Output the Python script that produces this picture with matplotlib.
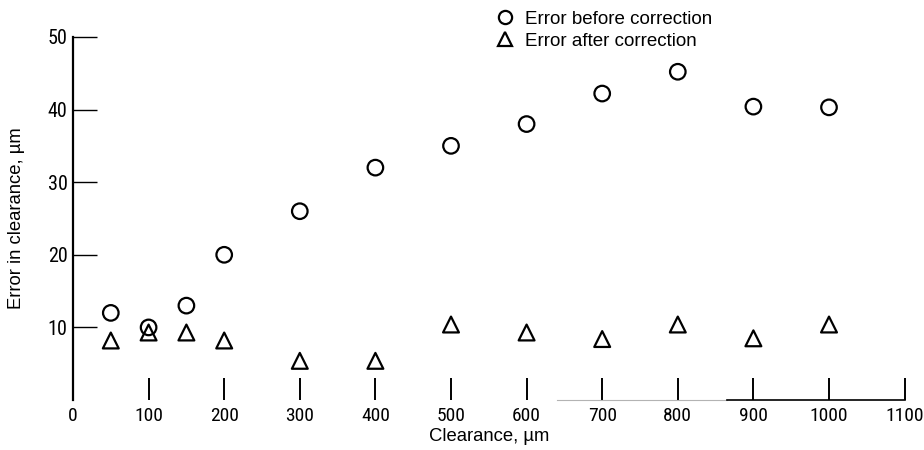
import matplotlib
matplotlib.use("Agg")
import matplotlib.pyplot as plt
from matplotlib.lines import Line2D

plt.rcParams['font.family'] = ['Liberation Sans', 'DejaVu Sans']
TICK_FONT = ['Roboto Condensed', 'DejaVu Sans']

# clearance, um
clearance = [50, 100, 150, 200, 300, 400, 500, 600, 700, 800, 900, 1000]
# error before / after correction, um
err_before = [12, 10, 13, 20, 26, 32, 35, 38, 42.2, 45.2, 40.4, 40.3]
err_after = [8.2, 9.3, 9.3, 8.2, 5.4, 5.4, 10.4, 9.3, 8.4, 10.4, 8.5, 10.4]

xticks = [0, 100, 200, 300, 400, 500, 600, 700, 800, 900, 1000, 1100]
yticks = [10, 20, 30, 40, 50]

fig = plt.figure(figsize=(9.24, 4.5), dpi=100)
ax = fig.add_axes([0.079, 0.111, 0.900, 0.807])

ax.scatter(clearance, err_before, s=125, marker='o', facecolors='none',
           edgecolors='black', linewidths=1.6, zorder=3, clip_on=False)
ax.scatter(clearance, err_after, s=130, marker='^', facecolors='none',
           edgecolors='black', linewidths=1.6, zorder=3, clip_on=False)

ax.set_xlim(0, 1100)
ax.set_ylim(0, 50)
ax.set_xticks(xticks)
ax.set_yticks(yticks)
ax.set_xticklabels([str(v) for v in xticks], fontsize=14, family=TICK_FONT)
ax.set_yticklabels([str(v) for v in yticks], fontsize=14.5, family=TICK_FONT)
ax.tick_params(axis='x', direction='in', length=16, width=1.4, pad=5)
ax.tick_params(axis='y', direction='in', length=17, width=1.0, pad=4)

for s in ('top', 'right'):
    ax.spines[s].set_visible(False)
ax.spines['left'].set_linewidth(1.6)
# scanned bottom axis only shows on the right part
ax.spines['bottom'].set_bounds(865, 1100)
ax.spines['bottom'].set_linewidth(1.2)
ax.plot([640, 865], [0, 0], color='0.7', lw=0.8, clip_on=False)

ax.set_xlabel('Clearance, µm', fontsize=13.3, labelpad=2)
ax.set_ylabel('Error in clearance, µm', fontsize=13.3, labelpad=16)

handles = [
    Line2D([], [], ls='none', marker='o', ms=9.5, mfc='none', mec='black', mew=1.6),
    Line2D([], [], ls='none', marker='^', ms=10, mfc='none', mec='black', mew=1.6),
]
fig.legend(handles, ['Error before correction', 'Error after correction'],
           loc='upper left', bbox_to_anchor=(0.5364, 0.976), frameon=False,
           fontsize=13.5, handletextpad=0.57, labelspacing=0.26,
           handlelength=1.0, borderpad=0, borderaxespad=0)

fig.savefig('out.png', dpi=100)
